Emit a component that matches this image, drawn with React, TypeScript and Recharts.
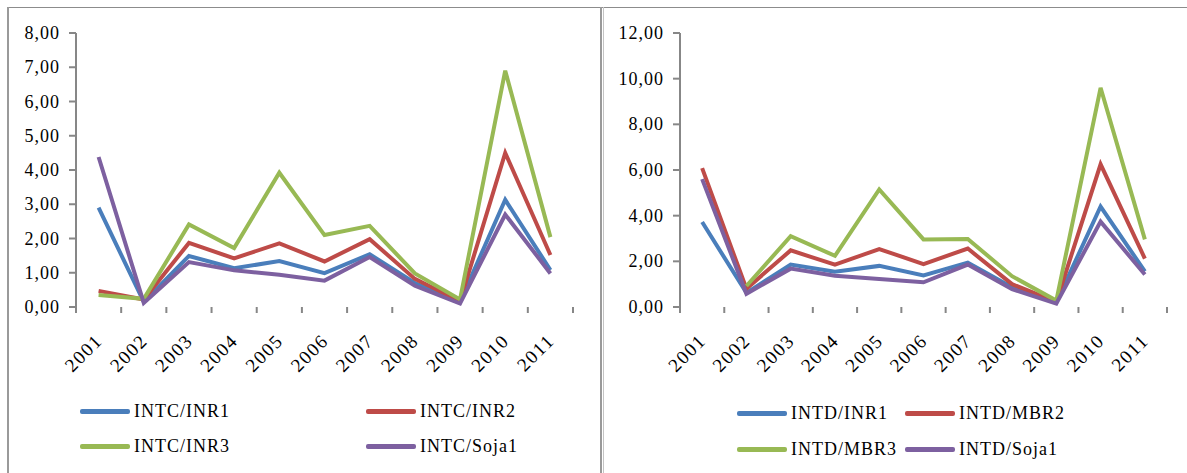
import React from 'react'
import { CartesianGrid, Line, LineChart, XAxis, YAxis } from 'recharts'

const years = ['2001', '2002', '2003', '2004', '2005', '2006', '2007', '2008', '2009', '2010', '2011']

// INTC panel
const intcInr1 = [2.9, 0.15, 1.49, 1.13, 1.34, 0.99, 1.54, 0.7, 0.15, 3.13, 1.08]
const intcInr2 = [0.47, 0.22, 1.87, 1.42, 1.86, 1.33, 1.98, 0.82, 0.17, 4.5, 1.52]
const intcInr3 = [0.35, 0.24, 2.41, 1.72, 3.92, 2.1, 2.37, 0.98, 0.22, 6.9, 2.04]
const intcSoja1 = [4.38, 0.12, 1.31, 1.07, 0.94, 0.77, 1.46, 0.62, 0.1, 2.7, 0.98]
const intcTicks = [0, 1, 2, 3, 4, 5, 6, 7, 8]

// INTD panel
const intdInr1 = [3.72, 0.62, 1.86, 1.54, 1.8, 1.38, 1.94, 0.86, 0.2, 4.4, 1.56]
const intdMbr2 = [6.08, 0.8, 2.48, 1.85, 2.54, 1.88, 2.56, 1.0, 0.22, 6.25, 2.12]
const intdMbr3 = [null, 0.92, 3.1, 2.24, 5.15, 2.96, 2.98, 1.35, 0.28, 9.6, 2.96]
const intdSoja1 = [5.6, 0.58, 1.68, 1.37, 1.23, 1.08, 1.86, 0.78, 0.15, 3.74, 1.42]
const intdTicks = [0, 2, 4, 6, 8, 10, 12]

const BLUE = '#4a7ebb'
const RED = '#be4b48'
const GREEN = '#98b954'
const PURPLE = '#7d60a0'
const GRID = '#878787'
const FRAME = '#9a9a9a'
const FONT = '"Liberation Serif", "Times New Roman", serif'
const COLORS = [BLUE, RED, GREEN, PURPLE]

const fmt = (v: number) => v.toFixed(2).replace('.', ',')

type Panel = {
  names: string[]
  series: (number | null)[][]
  ticks: number[]
  left: number
  width: number
  yAxisWidth: number
  marginRight: number
  legendCols: number[]
  legendRows: number[]
}

const panels: Panel[] = [
  {
    names: ['INTC/INR1', 'INTC/INR2', 'INTC/INR3', 'INTC/Soja1'],
    series: [intcInr1, intcInr2, intcInr3, intcSoja1],
    ticks: intcTicks,
    left: 0,
    width: 600,
    yAxisWidth: 76,
    marginRight: 27,
    legendCols: [80, 366],
    legendRows: [411, 446],
  },
  {
    names: ['INTD/INR1', 'INTD/MBR2', 'INTD/MBR3', 'INTD/Soja1'],
    series: [intdInr1, intdMbr2, intdMbr3, intdSoja1],
    ticks: intdTicks,
    left: 600,
    width: 587,
    yAxisWidth: 80,
    marginRight: 20,
    legendCols: [737, 905],
    legendRows: [413, 449],
  },
]

const TOP = 33
const BOTTOM = 307
const HEIGHT = 473

function ValueTick({ x, y, payload }: any) {
  return (
    <text x={x} y={y} dy={6} textAnchor="end" fontFamily={FONT} fontSize={18} letterSpacing={1} fill="#000">
      {fmt(payload.value)}
    </text>
  )
}

function YearTick({ x, y, payload, index, band, count }: any) {
  const tx = x + 5
  const ty = y + 35
  return (
    <g>
      <line x1={x - band / 2} x2={x - band / 2} y1={y} y2={y + 6} stroke={GRID} strokeWidth={2} />
      {index === count - 1 && (
        <line x1={x + band / 2} x2={x + band / 2} y1={y} y2={y + 6} stroke={GRID} strokeWidth={2} />
      )}
      <text
        x={tx}
        y={ty}
        textAnchor="end"
        transform={`rotate(-45, ${tx}, ${ty})`}
        fontFamily={FONT}
        fontSize={19}
        letterSpacing={1.5}
        fill="#000"
      >
        {payload.value}
      </text>
    </g>
  )
}

function PanelChart({ p }: { p: Panel }) {
  const data = years.map((year, i) => {
    const row: Record<string, string | number | null> = { year }
    p.names.forEach((n, k) => (row[n] = p.series[k][i]))
    return row
  })
  const band = (p.width - p.yAxisWidth - p.marginRight) / years.length
  const max = p.ticks[p.ticks.length - 1]

  return (
    <div style={{ position: 'absolute', left: p.left, top: 0 }}>
      <LineChart
        width={p.width}
        height={HEIGHT}
        data={data}
        margin={{ top: TOP, right: p.marginRight, left: 0, bottom: HEIGHT - BOTTOM - 60 }}
      >
        <CartesianGrid
          vertical={false}
          stroke={GRID}
          strokeWidth={2}
          horizontalCoordinatesGenerator={({ yAxis }: any) =>
            typeof yAxis?.scale === 'function'
              ? p.ticks.filter((v) => v > 0).map((v) => yAxis.scale(v))
              : []
          }
        />
        <XAxis
          dataKey="year"
          height={60}
          padding={{ left: band / 2, right: band / 2 }}
          axisLine={false}
          tickLine={false}
          tickSize={0}
          tickMargin={0}
          interval={0}
          tick={(t: any) => <YearTick {...t} band={band} count={years.length} />}
        />
        <YAxis
          width={p.yAxisWidth}
          domain={[0, max]}
          ticks={p.ticks}
          interval={0}
          axisLine={{ stroke: GRID, strokeWidth: 2 }}
          tickLine={{ stroke: GRID, strokeWidth: 2 }}
          tickSize={7}
          tickMargin={9}
          tick={<ValueTick />}
        />
        {p.names.map((n, k) => (
          <Line
            key={n}
            type="linear"
            dataKey={n}
            stroke={COLORS[k]}
            strokeWidth={4}
            dot={false}
            activeDot={false}
            isAnimationActive={false}
          />
        ))}
      </LineChart>
      {p.names.map((n, k) => (
        <div
          key={n}
          style={{
            position: 'absolute',
            left: p.legendCols[k % 2] - p.left,
            top: p.legendRows[Math.floor(k / 2)] - 11,
            height: 22,
            display: 'flex',
            alignItems: 'center',
            fontFamily: FONT,
            fontSize: 18,
            letterSpacing: 1,
            color: '#000',
            whiteSpace: 'nowrap',
          }}
        >
          <span style={{ width: 50, height: 5, borderRadius: 2, background: COLORS[k], marginRight: 4 }} />
          {n}
        </div>
      ))}
    </div>
  )
}

// thin filled strip used for the panel frames
function Rule({ x, y, w, h, c = FRAME }: { x: number; y: number; w: number; h: number; c?: string }) {
  return <div style={{ position: 'absolute', left: x, top: y, width: w, height: h, background: c, zIndex: 5 }} />
}

export default function App() {
  return (
    <div
      style={{
        position: 'fixed',
        left: 0,
        top: 0,
        width: 1187,
        height: HEIGHT,
        background: '#fff',
        overflow: 'hidden',
      }}
    >
      {panels.map((p) => (
        <PanelChart key={p.left} p={p} />
      ))}
      <Rule x={7} y={7} w={1180} h={1} c="#8c8c8c" />
      <Rule x={7} y={7} w={2} h={466} />
      <Rule x={600} y={7} w={2} h={466} />
      <Rule x={603} y={7} w={1} h={466} c="#c4c4c4" />
    </div>
  )
}
